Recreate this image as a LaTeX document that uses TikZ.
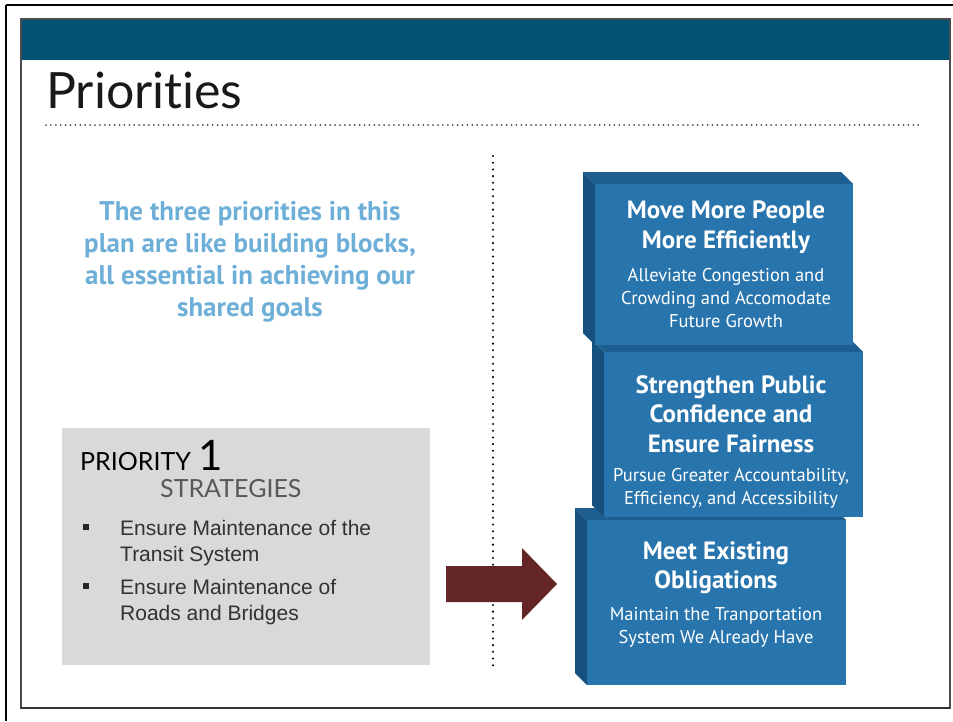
\documentclass[tikz,border=0pt]{standalone}
\usepackage{fontspec}
\setmainfont{PT Sans}
\newfontfamily\gillfont[Ligatures=NoCommon]{Lato}
\newfontfamily\arialfont{Liberation Sans}

\definecolor{barteal}{RGB}{2,82,118}
\definecolor{blockfront}{RGB}{40,116,172}
\definecolor{blocktop}{RGB}{29,95,145}
\definecolor{blockside}{RGB}{22,80,124}
\definecolor{introblue}{RGB}{110,175,216}
\definecolor{boxgray}{RGB}{217,217,217}
\definecolor{arrowred}{RGB}{100,37,38}
\definecolor{bullettext}{RGB}{50,50,50}

\newcommand{\fsz}[2]{\fontsize{#1pt}{#2pt}\selectfont}
% one building block: left, top, right, bottom of the front face
\newcommand{\buildblock}[4]{%
	\fill[blockside] (#1-12,#2-12) -- (#1,#2) -- (#1,#4) -- (#1-12,#4-12) -- cycle;
	\fill[blocktop] (#1-12,#2-12) -- (#3-12,#2-12) -- (#3,#2) -- (#1,#2) -- cycle;
	\fill[blockfront] (#1,#2) rectangle (#3,#4);
}

\begin{document}
\begin{tikzpicture}[x=1pt, y=-1pt]
\useasboundingbox (0,0) rectangle (953,721);
\begin{scope}
	\tikzstyle{every node}=[inner sep=0pt, align=center]
	\tikzstyle{blocktitle}=[text=white, font=\bfseries\fsz{25}{29.5}]
	\tikzstyle{blocksub}=[text=white, font=\fsz{18.5}{23}]
	\tikzstyle{bulletline}=[anchor=north west, text=bullettext, font=\arialfont\fsz{21}{26}, align=left]

	% slide frame
	\draw [line width=2.5pt] (6,5) -- (953,5);
	\draw [line width=2.5pt] (6,5) -- (6,721);
	\fill [barteal] (21,19) rectangle (950,60);
	\draw [line width=1.2pt, black!70] (21,19) rectangle (950,708);
	\draw [line width=2pt, black!80] (21,708) -- (950,708);

	% title
	\node[anchor=base west, text=black!90, font=\gillfont\fsz{50}{50}] (title) at (46,108) {Priorities};
	\draw [line width=2pt, black!70, dash pattern=on 0pt off 4.9pt, line cap=round] (46,125) -- (920,125);
	\draw [line width=2.3pt, dash pattern=on 0pt off 6.7pt, line cap=round] (493,156) -- (493,668);

	% intro text
	\node[text=introblue, font=\bfseries\fsz{27}{32}] (intro) at (250,262)
		{The three priorities in this\\plan are like building blocks,\\all essential in achieving our\\shared goals};

	% priority box
	\fill [boxgray] (62,428) rectangle (430,665);
	\node[anchor=base west, font=\gillfont\fsz{25}{25}] (prio) at (80,470) {PRIORITY};
	\node[anchor=base west, font=\gillfont\fsz{42}{42}] (one) at (prio.base east) {\,1};
	\node[anchor=base west, text=black!65, font=\gillfont\fsz{25}{25}] (strat) at (160,497) {STRATEGIES};
	\fill [black!85] (83,524) rectangle ++(6,6);
	\fill [black!85] (83,583) rectangle ++(6,6);
	\node[bulletline] (maint1) at (120,520) {Ensure Maintenance of the\\Transit System};
	\node[bulletline] (maint2) at (120,579) {Ensure Maintenance of\\Roads and Bridges};

	% arrow
	\fill [arrowred] (446,566) -- (522,566) -- (522,548) -- (557,584) -- (522,620) -- (522,602) -- (446,602) -- cycle;

	% blocks, bottom one first
	\buildblock{587}{520}{846}{685}
	\buildblock{604}{352}{863}{517}
	\buildblock{595}{184}{853}{345}

	\node[blocktitle] (movet) at (726,227) {Move More People\\More Efficiently};
	\node[blocksub] (moves) at (726,298) {Alleviate Congestion and\\Crowding and Accomodate\\Future Growth};
	\node[blocktitle] (trustt) at (731,414) {Strengthen Public\\Confidence and\\Ensure Fairness};
	\node[blocksub] (trusts) at (731,488) {Pursue Greater Accountability,\\Efficiency, and Accessibility};
	\node[blocktitle] (meett) at (716,568) {Meet Existing\\Obligations};
	\node[blocksub] (meets) at (716,627) {Maintain the Tranportation\\System We Already Have};
\end{scope}
\end{tikzpicture}
\end{document}
